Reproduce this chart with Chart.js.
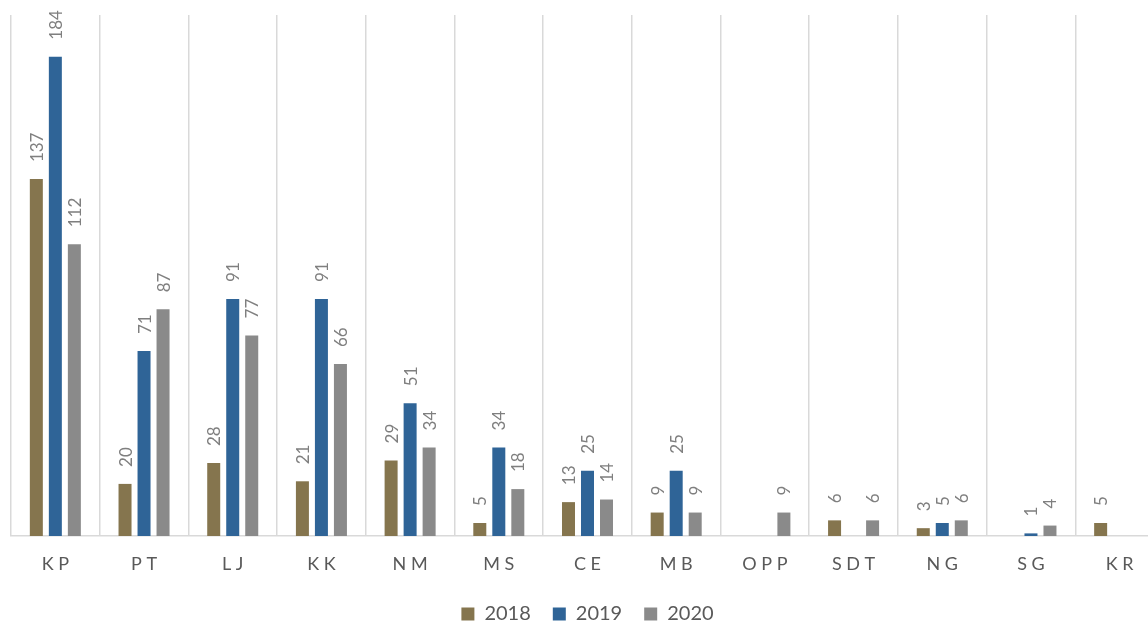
<!DOCTYPE html>
<html>
<head>
<meta charset="utf-8">
<script src="https://cdn.jsdelivr.net/npm/chart.js@4.4.1/dist/chart.umd.min.js"></script>
<style>
html, body { margin: 0; padding: 0; overflow: hidden; background: #ffffff; }
#wrap { position: absolute; left: 0; top: 0; width: 1178px; height: 634px; }
</style>
</head>
<body>
<div id="wrap"><canvas id="c"></canvas></div>
<script>
const categories = ['KP', 'PT', 'LJ', 'KK', 'NM', 'MS', 'CE', 'MB', 'OPP', 'SDT', 'NG', 'SG', 'KR'];
const seriesNames = ['2018', '2019', '2020'];
const values2018 = [137, 20, 28, 21, 29, 5, 13, 9, null, 6, 3, null, 5];
const values2019 = [184, 71, 91, 91, 51, 34, 25, 25, null, null, 5, 1, null];
const values2020 = [112, 87, 77, 66, 34, 18, 14, 9, 9, 6, 6, 4, null];
const colors = ['#85754E', '#2F6497', '#8A8A8A'];

const FONT = 'Lato, "Open Sans", sans-serif';

const barLabels = {
  id: 'barLabels',
  afterDatasetsDraw(chart) {
    const ctx = chart.ctx;
    ctx.save();
    ctx.font = '17px ' + FONT;
    ctx.fillStyle = '#7F7F7F';
    ctx.textAlign = 'left';
    ctx.textBaseline = 'middle';
    chart.data.datasets.forEach((ds, di) => {
      const meta = chart.getDatasetMeta(di);
      meta.data.forEach((el, i) => {
        const v = ds.data[i];
        if (v === null || v === undefined) return;
        ctx.save();
        ctx.translate(el.x, el.y - 17);
        ctx.rotate(-Math.PI / 2);
        ctx.fillText(String(v), 0, 1);
        ctx.restore();
      });
    });
    ctx.restore();
  }
};

new Chart(document.getElementById('c'), {
  type: 'bar',
  data: {
    labels: categories,
    datasets: [
      { label: seriesNames[0], data: values2018, backgroundColor: colors[0] },
      { label: seriesNames[1], data: values2019, backgroundColor: colors[1] },
      { label: seriesNames[2], data: values2020, backgroundColor: colors[2] }
    ]
  },
  options: {
    responsive: true,
    maintainAspectRatio: false,
    animation: false,
    devicePixelRatio: 1,
    layout: { padding: { left: 11, right: 14, top: 15, bottom: 0 } },
    datasets: { bar: { categoryPercentage: 0.643, barPercentage: 0.684 } },
    scales: {
      x: {
        offset: true,
        grid: { display: true, offset: true, color: '#D9D9D9', lineWidth: 1.5, drawTicks: false },
        border: { display: true, color: '#D9D9D9', width: 1.5 },
        ticks: {
          color: '#595959',
          font: { family: FONT, size: 18, lineHeight: 1.067 },
          padding: 18.4,
          maxRotation: 0,
          autoSkip: false,
          callback: function (v, i) { return categories[i].split('').join(' '); }
        }
      },
      y: {
        display: false,
        min: 0,
        max: 200
      }
    },
    plugins: {
      legend: {
        position: 'bottom',
        align: 'center',
        labels: {
          color: '#595959',
          font: { family: FONT, size: 20 },
          boxWidth: 13,
          boxHeight: 13,
          padding: 12,
          generateLabels: function (chart) {
            const items = Chart.defaults.plugins.legend.labels.generateLabels(chart);
            items.forEach((it, i) => { if (i < items.length - 1) it.text = it.text + '\u2002'; });
            return items;
          }
        }
      },
      tooltip: { enabled: false }
    }
  },
  plugins: [barLabels]
});
</script>
</body>
</html>
